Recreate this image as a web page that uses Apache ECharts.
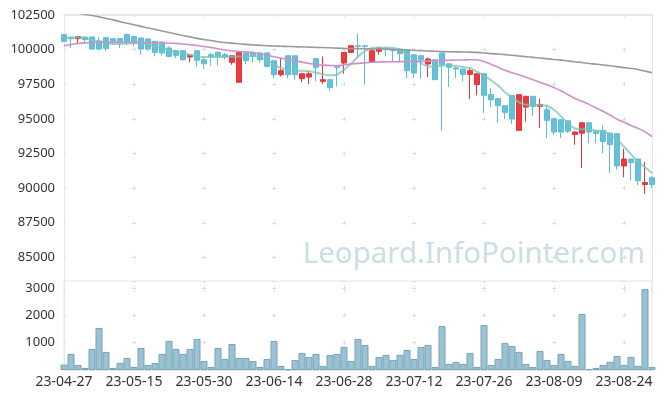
<!DOCTYPE html>
<html>
<head>
<meta charset="utf-8">
<script src="https://cdn.jsdelivr.net/npm/echarts@6/dist/echarts.min.js"></script>
<style>html,body{margin:0;padding:0;background:#fff}#c{width:665px;height:399px}</style>
</head>
<body>
<div id="c"></div>
<script>
const dates = [
'23-04-27','23-04-28','23-05-02','23-05-03','23-05-04','23-05-08','23-05-09','23-05-10','23-05-11','23-05-12',
'23-05-15','23-05-16','23-05-17','23-05-18','23-05-19','23-05-22','23-05-23','23-05-24','23-05-25','23-05-26',
'23-05-30','23-05-31','23-06-01','23-06-02','23-06-05','23-06-07','23-06-08','23-06-09','23-06-12','23-06-13',
'23-06-14','23-06-15','23-06-16','23-06-19','23-06-20','23-06-21','23-06-22','23-06-23','23-06-26','23-06-27',
'23-06-28','23-06-29','23-06-30','23-07-03','23-07-04','23-07-05','23-07-06','23-07-07','23-07-10','23-07-11',
'23-07-12','23-07-13','23-07-14','23-07-17','23-07-18','23-07-19','23-07-20','23-07-21','23-07-24','23-07-25',
'23-07-26','23-07-27','23-07-28','23-07-31','23-08-01','23-08-02','23-08-03','23-08-04','23-08-07','23-08-08',
'23-08-09','23-08-10','23-08-11','23-08-14','23-08-16','23-08-17','23-08-18','23-08-21','23-08-22','23-08-23',
'23-08-24','23-08-25','23-08-28','23-08-29','23-08-30'];

const opens = [101080,100890,100790,100910,100910,100620,100860,100790,100790,101100,
100940,100840,100770,100600,100550,100120,99920,99920,99470,99920,
99270,99630,99800,99630,99080,97640,99760,99760,99760,99760,
99200,98190,99560,99560,97900,98020,99350,97710,97830,98860,
99030,99800,100280,100280,99080,99880,100120,100000,100040,100000,
99630,99560,98960,99270,99760,98980,98670,98600,98210,97470,
98260,96750,96460,95950,96700,94170,95850,96630,95900,95660,
95010,94940,94860,93880,93970,94720,94100,94170,93970,93930,
91600,92100,92100,90260,90750];
const closes = [100600,100790,100940,100720,100040,100040,100090,100600,100500,100500,
100480,100040,100040,99800,99760,99510,99590,99270,99610,99230,
98980,99510,99510,99470,99560,99800,99200,99510,99270,98790,
98190,98480,98190,98190,98260,98260,98720,97830,97270,98720,
99800,100280,100240,100240,99920,100120,100000,99920,99710,98480,
98310,99270,99320,97830,98910,98720,98600,98210,98480,98260,
96700,96380,95950,95470,94990,96750,96630,95900,96040,94890,
94050,94050,94110,94050,94720,94050,93950,93370,93150,91600,
92100,91850,90550,90410,90260];
const lows = [100550,100120,100400,100480,100000,99950,99880,100400,100120,100310,
100240,99630,99900,99510,99560,99470,99390,99200,99080,98790,
98600,98840,98840,99300,98910,97600,98960,99080,99080,98750,
97950,98070,97930,97830,97640,97520,97710,97540,96990,97350,
98260,99780,99390,97470,99060,99630,99510,99100,99030,97950,
97950,97900,98020,97800,94100,97300,97950,97710,96430,96700,
95420,95850,94700,94990,94650,94150,94810,95220,94340,93610,
93850,93610,93970,93130,91450,93250,93250,92530,91090,91330,
90780,90550,90220,89590,90000];
const highs = [101120,100960,100960,100930,100930,100910,100880,100810,100810,101150,
101000,100860,100790,100620,100570,100240,100000,99950,99620,99950,
99510,99760,99880,99750,99580,99820,99780,99880,99780,99780,
99220,99320,99580,99580,98280,98480,99370,99510,97850,98880,
99820,100300,101150,100300,100120,100130,100130,100120,100060,100010,
99650,99580,99440,99290,99780,99000,98790,98620,98600,98280,
98280,97230,96480,95970,96720,96800,96640,96640,96480,96020,
95030,94950,94880,94100,94740,94740,94170,94530,94000,93950,
92850,92120,92120,91880,90890];
const volumes = [197,587,185,77,770,1536,660,77,258,440,
113,806,185,258,587,1062,770,587,770,1135,
331,113,806,404,952,440,440,331,113,404,
1062,150,20,368,624,478,587,150,551,587,
843,331,1135,916,150,478,551,368,551,733,
404,843,916,113,1609,222,295,222,624,113,
1645,185,404,989,879,660,222,113,697,368,
185,587,331,150,2047,30,77,185,300,514,
185,478,150,2950,113];
const ma5 = [100795,100860,100889,100838,100715,100600,100484,100398,100398,100441,
100477,100455,100376,100246,100094,99957,99834,99733,99624,99523,
99473,99465,99465,99473,99487,99509,99531,99559,99422,99270,
98945,98656,98548,98476,98476,98447,98331,98223,98143,98187,
98548,98981,99487,99885,100123,100159,100137,100116,99993,99653,
99350,99025,98786,98786,98837,98880,98822,98743,98671,98403,
98143,97789,97406,96930,96561,96200,96019,96012,96005,95947,
95658,95196,94690,94307,94249,94220,94170,94105,93888,93527,
92985,92443,91901,91504,91084];
const ma20 = [100282,100376,100441,100484,100513,100535,100535,100535,100535,100528,
100520,100513,100506,100499,100484,100463,100448,100405,100354,100296,
100231,100152,100065,99971,99899,99863,99827,99798,99704,99603,
99487,99386,99307,99205,99097,99003,98931,98880,98858,98837,
98894,98960,99010,99046,99083,99104,99119,99126,99133,99140,
99148,99155,99177,99198,99220,99234,99249,99256,99270,99270,
99140,98945,98729,98505,98331,98187,98006,97825,97638,97464,
97269,97031,96742,96474,96265,96048,95803,95550,95275,94972,
94755,94524,94314,94068,93722];
const ma60 = [102860,102740,102630,102540,102460,102370,102260,102150,102020,101900,
101790,101680,101560,101460,101350,101240,101130,101020,100920,100810,
100730,100660,100570,100510,100470,100420,100380,100340,100310,100280,
100260,100240,100230,100210,100190,100180,100160,100150,100130,100110,
100090,100080,100070,100060,100050,100040,100040,100010,99990,99970,
99950,99930,99900,99880,99860,99850,99840,99830,99820,99800,
99760,99710,99680,99640,99590,99540,99490,99440,99390,99340,
99290,99240,99180,99120,99070,99000,98950,98890,98830,98770,
98700,98640,98570,98450,98330];

const candles = dates.map((d, i) => [opens[i], closes[i], lows[i], highs[i]]);

const FONT = 'Noto Sans';
const plusColor = '#dcdcdc';
const plain = v => String(v);
const chart = echarts.init(document.getElementById('c'), null, {renderer: 'canvas'});
chart.setOption({
  animation: false,
  backgroundColor: '#fff',
  grid: [
    {left: 64, right: 13, top: 15, height: 277},
    {left: 64, right: 13, top: 281, height: 89, show: true, borderColor: '#e6e6e6', borderWidth: 1, backgroundColor: 'transparent'}
  ],
  graphic: [{
    type: 'text', right: 20, top: 240, z: 0, silent: true,
    style: {text: 'Leopard.InfoPointer.com', font: '29.5px "Noto Sans"', fill: 'rgba(170,198,212,0.6)'}
  }],
  xAxis: [
    {type: 'category', gridIndex: 0, data: dates, boundaryGap: false, position: 'top',
     axisLine: {show: true, lineStyle: {color: '#e8e8e8', width: 2}},
     axisTick: {show: false}, axisLabel: {show: false, interval: 9},
     splitLine: {show: true, interval: 9, lineStyle: {color: plusColor, width: 1, type: [4, 30.625], dashOffset: 2}}},
    {type: 'category', gridIndex: 1, data: dates, boundaryGap: false,
     axisLine: {show: true, lineStyle: {color: '#e6e6e6'}},
     axisTick: {show: false},
     axisLabel: {interval: 9, color: '#333', fontFamily: FONT, fontSize: 14, margin: 5},
     splitLine: {show: true, interval: 9, lineStyle: {color: plusColor, width: 1, type: [4, 23.385], dashOffset: 22.62}}}
  ],
  yAxis: [
    {type: 'value', gridIndex: 0, min: 82500, max: 102500, interval: 2500, scale: true,
     axisLine: {show: true, lineStyle: {color: '#e6e6e6'}}, axisTick: {show: false},
     axisLabel: {color: '#333', fontFamily: FONT, fontSize: 13, margin: 9, showMinLabel: false, formatter: plain},
     splitLine: {show: true, showMinLine: false, lineStyle: {color: plusColor, width: 1, type: [4, 66], dashOffset: 2}}},
    {type: 'value', gridIndex: 1, min: 0, max: 3250, interval: 1000,
     axisLine: {show: true, lineStyle: {color: '#e6e6e6'}}, axisTick: {show: false},
     axisLabel: {color: '#333', fontFamily: FONT, fontSize: 13, margin: 9, showMinLabel: false, formatter: plain},
     splitLine: {show: true, showMinLine: false, lineStyle: {color: plusColor, width: 1, type: [4, 66], dashOffset: 2}}},
    {type: 'value', gridIndex: 0, position: 'right', min: 82500, max: 102500,
     axisLine: {show: true, lineStyle: {color: '#e6e6e6'}}, axisTick: {show: false},
     axisLabel: {show: false}, splitLine: {show: false}}
  ],
  series: [
    {type: 'candlestick', xAxisIndex: 0, yAxisIndex: 0, data: candles, barWidth: 5,
     itemStyle: {color: '#ea3b3e', color0: '#66c0d9', borderColor: '#e83437', borderColor0: '#5fbcd6', borderWidth: 1}},
    {type: 'line', xAxisIndex: 0, yAxisIndex: 0, data: ma5, showSymbol: false, smooth: 0.2,
     lineStyle: {color: 'rgba(120,196,180,0.75)', width: 2}},
    {type: 'line', xAxisIndex: 0, yAxisIndex: 0, data: ma20, showSymbol: false, smooth: 0.2,
     lineStyle: {color: '#cf8fcc', width: 1.6}},
    {type: 'line', xAxisIndex: 0, yAxisIndex: 0, data: ma60, showSymbol: false, smooth: 0.2,
     lineStyle: {color: '#9a9a9a', width: 1.6}},
    {type: 'bar', xAxisIndex: 1, yAxisIndex: 1, data: volumes, barWidth: '100%',
     itemStyle: {color: '#9cc2d2', borderColor: '#74a3b9', borderWidth: 1}}
  ]
});
</script>
</body>
</html>
